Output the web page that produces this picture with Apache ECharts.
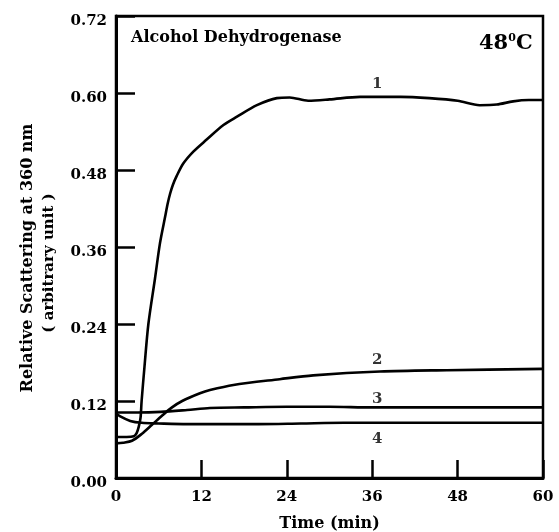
<!DOCTYPE html>
<html><head><meta charset="utf-8">
<script src="https://cdn.jsdelivr.net/npm/echarts@6/dist/echarts.min.js"></script>
<style>html,body{margin:0;padding:0;background:#fff}#c{width:559px;height:532px}</style>
</head><body><div id="c"></div>
<script>
var xTicks = [0, 12, 24, 36, 48, 60];
var yTicks = [0.00, 0.12, 0.24, 0.36, 0.48, 0.60, 0.72];

var t1 = [0, 1.5, 2.5, 2.9, 3.2, 3.45, 3.6, 4.0, 4.55, 5.48, 6.18, 6.9, 7.25, 7.6, 8.0, 8.5, 9.45, 10.9, 12.7, 15.1, 17, 19.8, 22.6, 24.4, 27, 30, 34.3, 40, 44, 48, 51.1, 53.5, 55.8, 58, 60];
var v1 = [0.064, 0.064, 0.065, 0.070, 0.080, 0.094, 0.12, 0.173, 0.24, 0.311, 0.366, 0.407, 0.427, 0.443, 0.457, 0.470, 0.490, 0.509, 0.527, 0.550, 0.563, 0.581, 0.592, 0.593, 0.588, 0.590, 0.594, 0.594, 0.592, 0.588, 0.581, 0.582, 0.587, 0.589, 0.589];

var t2 = [0, 1, 2.25, 3.65, 5.06, 6.46, 7.87, 9.3, 11.8, 13.2, 16.5, 23, 27.7, 37.1, 46.5, 60];
var v2 = [0.054, 0.055, 0.058, 0.069, 0.083, 0.097, 0.110, 0.120, 0.132, 0.137, 0.145, 0.154, 0.160, 0.166, 0.168, 0.170];

var t3 = [0, 3, 6.3, 10, 13.2, 18, 24, 30, 36, 42, 48, 54, 60];
var v3 = [0.102, 0.102, 0.103, 0.106, 0.109, 0.110, 0.111, 0.111, 0.110, 0.110, 0.110, 0.110, 0.110];

var t4 = [0, 0.6, 2, 3.6, 6, 10, 15, 20, 26, 32, 40, 50, 60];
var v4 = [0.101, 0.096, 0.089, 0.086, 0.085, 0.084, 0.084, 0.084, 0.085, 0.086, 0.086, 0.086, 0.086];

var curveLabels = ['1', '2', '3', '4'];
var labelT = [36.7, 36.7, 36.7, 36.7];
var labelV = [0.614, 0.183, 0.123, 0.061];

var FONT = '"DejaVu Serif", "Liberation Serif", serif';

function pairs(t, v) { return t.map(function (x, i) { return [x, v[i]]; }); }

function lineSeries(t, v) {
  return {
    type: 'line', data: pairs(t, v), smooth: 0.3, symbol: 'none',
    lineStyle: { color: '#000', width: 2.6 }, silent: true, animation: false
  };
}

var chart = echarts.init(document.getElementById('c'), null, { renderer: 'canvas' });
chart.setOption({
  animation: false,
  backgroundColor: '#fff',
  grid: { left: 116, right: 16, top: 16, bottom: 54, outerBoundsMode: 'none', containLabel: false, show: true, borderColor: '#000', borderWidth: 2.5, backgroundColor: 'transparent' },
  xAxis: {
    type: 'value', min: xTicks[0], max: xTicks[xTicks.length - 1], interval: 12,
    axisLine: { show: true, onZero: false, lineStyle: { color: '#000', width: 3 } },
    axisTick: { show: true, inside: true, length: 18, lineStyle: { color: '#000', width: 2.5 } },
    axisLabel: { color: '#000', fontFamily: FONT, fontWeight: 'bold', fontSize: 15, margin: 12 },
    splitLine: { show: false },
    name: 'Time (min)', nameLocation: 'middle', nameGap: 38,
    nameTextStyle: { color: '#000', fontFamily: FONT, fontWeight: 'bold', fontSize: 16 }
  },
  yAxis: {
    type: 'value', min: yTicks[0], max: yTicks[yTicks.length - 1], interval: 0.12,
    axisLine: { show: true, onZero: false, lineStyle: { color: '#000', width: 3 } },
    axisTick: { show: true, inside: true, length: 19, lineStyle: { color: '#000', width: 2.5 } },
    axisLabel: { color: '#000', fontFamily: FONT, fontWeight: 'bold', fontSize: 15, margin: 9,
      verticalAlign: 'top', lineHeight: 10,
      formatter: function (v) { return v.toFixed(2); } },
    splitLine: { show: false }
  },
  graphic: [
    { type: 'text', left: 131, top: 30, style: { text: 'Alcohol Dehydrogenase', font: 'bold 16px ' + FONT, fill: '#000' } },
    { type: 'text', left: 479, top: 33, style: {
      text: '{a|48}{s|0}{a|C}', fill: '#000',
      rich: { a: { font: 'bold 21px ' + FONT, fill: '#000' }, s: { font: 'bold 11px ' + FONT, fill: '#000', verticalAlign: 'top', padding: [0, 0, 10, 0] } }
    } },
    { type: 'text', x: 28, y: 258, rotation: Math.PI / 2, style: { text: 'Relative Scattering at 360 nm', font: 'bold 16px ' + FONT, fill: '#000', align: 'center', verticalAlign: 'middle' } },
    { type: 'text', x: 49, y: 263, rotation: Math.PI / 2, style: { text: '( arbitrary unit )', font: 'bold 15px ' + FONT, fill: '#000', align: 'center', verticalAlign: 'middle' } }
  ],
  series: [
    lineSeries(t1, v1), lineSeries(t2, v2), lineSeries(t3, v3), lineSeries(t4, v4),
    {
      type: 'scatter', symbolSize: 0, silent: true,
      data: curveLabels.map(function (s, i) { return { value: [labelT[i], labelV[i]], name: s }; }),
      label: { show: true, position: 'inside', formatter: function (p) { return p.name; },
        color: '#000', fontFamily: FONT, fontWeight: 'bold', fontSize: 15 }
    }
  ]
});
</script></body></html>
